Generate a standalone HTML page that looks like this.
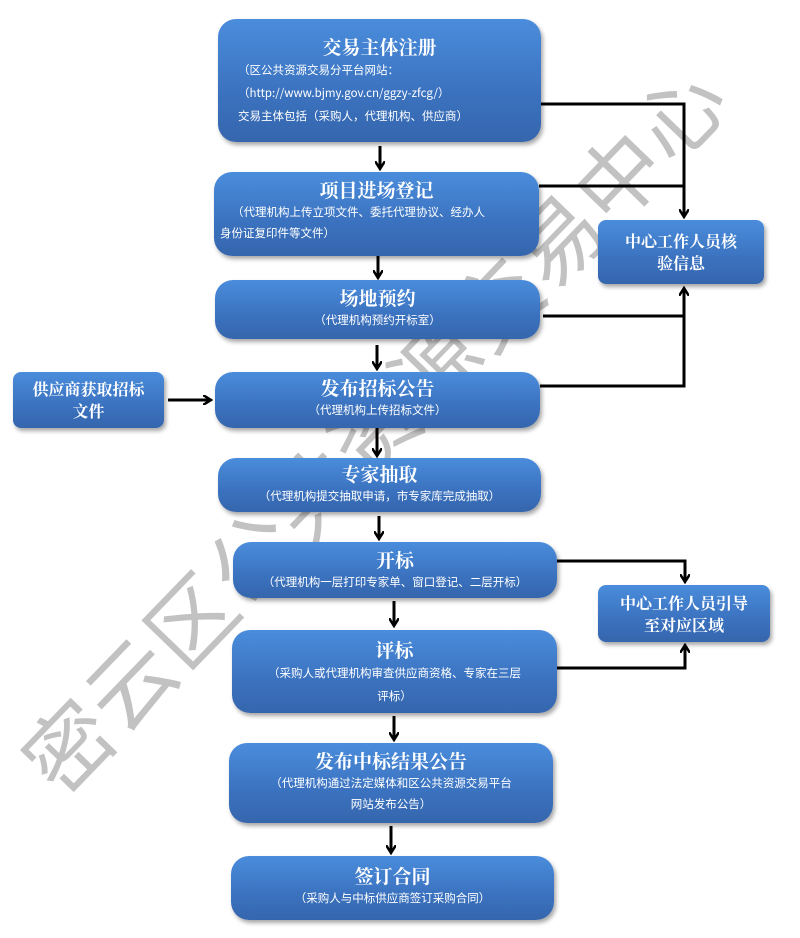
<!DOCTYPE html>
<html><head><meta charset="utf-8"><style>
body{margin:0;width:800px;height:938px;background:#fff;position:relative;overflow:hidden;font-family:"Liberation Serif","Noto Serif CJK SC",serif}
.b{position:absolute;box-sizing:border-box;border-radius:18px;background:linear-gradient(#4a8ddc,#3b72bf 60%,#3566ad);box-shadow:2px 3px 4px rgba(0,0,0,.35);color:#fff;text-align:center;z-index:1}
.t{font-weight:bold;font-size:19px;line-height:24px;font-family:"Noto Serif CJK SC",serif}
.s{font-size:11.5px;line-height:20px;font-family:"Noto Sans CJK SC",sans-serif}
.side{font-weight:bold;font-size:16px;line-height:22px;font-family:"Noto Serif CJK SC",serif;display:flex;align-items:center;justify-content:center;border-radius:8px}
svg{position:absolute;left:0;top:0}
</style></head><body>
<svg width="800" height="938" style="z-index:0">
<text x="0" y="0" transform="translate(62,800) rotate(-46)" font-size="86" font-family="Noto Sans CJK SC" fill="#9a9a9a" fill-opacity="0.6" letter-spacing="2">密云区公共资源交易中心</text>
</svg>
<div class="b" style="left:218px;top:19px;width:323px;height:123px;padding:16px 20px 0">
<div class="t">交易主体注册</div>
<div class="s" style="text-align:left;line-height:23px">（区公共资源交易分平台网站：<br>（http://www.bjmy.gov.cn/ggzy-zfcg/）<br>交易主体包括（采购人，代理机构、供应商）</div></div>
<div class="b" style="left:214px;top:172px;width:325px;height:84px;padding:6px 6px 0">
<div class="t">项目进场登记</div>
<div class="s" style="text-align:left;padding-left:12px;line-height:21px">（代理机构上传立项文件、委托代理协议、经办人<br><span style="margin-left:-12px">身份证复印件等文件）</span></div></div>
<div class="b" style="left:215px;top:280px;width:325px;height:59px;padding:6px 0 0">
<div class="t">场地预约</div><div class="s">（代理机构预约开标室）</div></div>
<div class="b" style="left:215px;top:372px;width:325px;height:56px;padding:4px 0 0">
<div class="t">发布招标公告</div><div class="s">（代理机构上传招标文件）</div></div>
<div class="b" style="left:218px;top:458px;width:323px;height:54px;padding:4px 0 0">
<div class="t">专家抽取</div><div class="s">（代理机构提交抽取申请，市专家库完成抽取）</div></div>
<div class="b" style="left:233px;top:542px;width:324px;height:56px;padding:6px 0 0">
<div class="t">开标</div><div class="s">（代理机构一层打印专家单、窗口登记、二层开标）</div></div>
<div class="b" style="left:232px;top:630px;width:325px;height:83px;padding:8px 16px 0">
<div class="t">评标</div><div class="s" style="line-height:23px">（采购人或代理机构审查供应商资格、专家在三层<br>评标）</div></div>
<div class="b" style="left:229px;top:743px;width:324px;height:80px;padding:6px 10px 0">
<div class="t">发布中标结果公告</div><div class="s" style="line-height:21px">（代理机构通过法定媒体和区公共资源交易平台<br>网站发布公告）</div></div>
<div class="b" style="left:231px;top:856px;width:323px;height:64px;padding:8px 0 0">
<div class="t">签订合同</div><div class="s">（采购人与中标供应商签订采购合同）</div></div>
<div class="b side" style="left:13px;top:372px;width:151px;height:56px">供应商获取招标<br>文件</div>
<div class="b side" style="left:598px;top:220px;width:166px;height:64px">中心工作人员核<br>验信息</div>
<div class="b side" style="left:598px;top:585px;width:172px;height:57px">中心工作人员引导<br>至对应区域</div>
<svg width="800" height="938" style="z-index:2">
<defs><marker id="a" markerWidth="10" markerHeight="10" refX="7" refY="5" orient="auto" markerUnits="userSpaceOnUse" viewBox="0 0 10 10"><path d="M0,0 L8,5 L0,10" fill="none" stroke="#000" stroke-width="2.5"/></marker></defs>
<g stroke="#000" stroke-width="3" fill="none">
<line x1="380" y1="146" x2="380" y2="168" marker-end="url(#a)"/>
<line x1="378" y1="256" x2="378" y2="277" marker-end="url(#a)"/>
<line x1="377" y1="345" x2="377" y2="368" marker-end="url(#a)"/>
<line x1="377" y1="428" x2="377" y2="455" marker-end="url(#a)"/>
<line x1="379" y1="516" x2="379" y2="538" marker-end="url(#a)"/>
<line x1="394" y1="601" x2="394" y2="625" marker-end="url(#a)"/>
<line x1="394" y1="716" x2="394" y2="739" marker-end="url(#a)"/>
<line x1="391" y1="826" x2="391" y2="852" marker-end="url(#a)"/>
<line x1="168" y1="400" x2="210" y2="400" marker-end="url(#a)"/>
<polyline points="541,104 684,104 684,216" marker-end="url(#a)"/>
<polyline points="539,186 684,186"/>
<polyline points="543,316 684,316"/>
<polyline points="540,386 684,386 684,289" marker-end="url(#a)"/>
<polyline points="557,561 685,561 685,581" marker-end="url(#a)"/>
<polyline points="557,668 685,668 685,646" marker-end="url(#a)"/>
</g></svg>
</body></html>
